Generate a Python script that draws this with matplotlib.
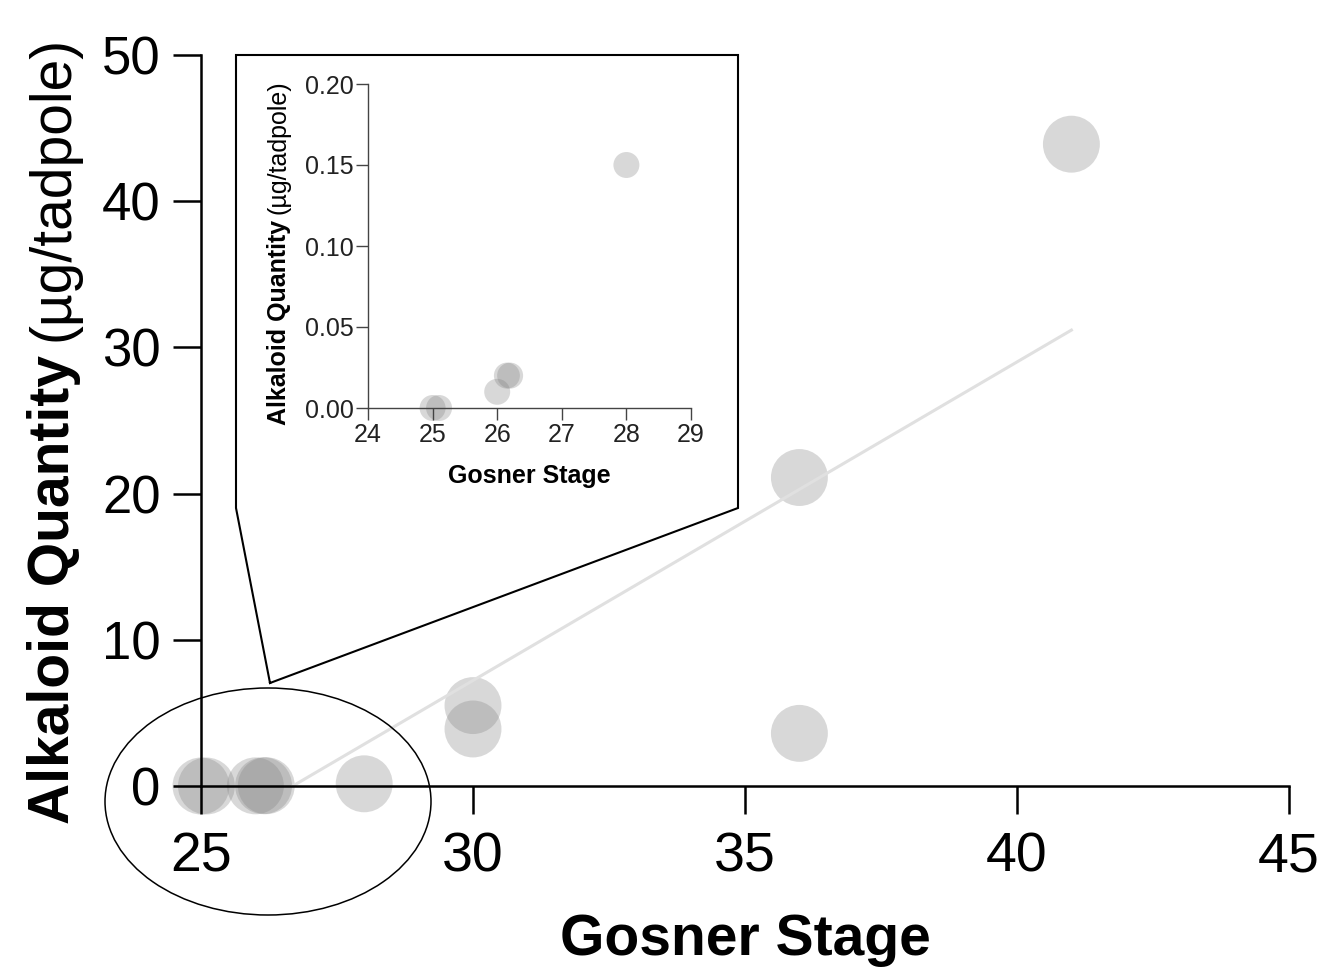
import matplotlib
matplotlib.use("Agg")
import matplotlib.pyplot as plt
from matplotlib.patches import Ellipse
import numpy as np

plt.rcParams["font.family"] = ["Liberation Sans", "DejaVu Sans"]

# data
stage = np.array([25.0, 25.1, 26.0, 26.15, 26.2, 28.0, 30.0, 30.0, 36.0, 36.0, 41.0])
alkaloid = np.array([0.0, 0.0, 0.01, 0.02, 0.02, 0.15, 5.5, 3.9, 3.6, 21.1, 43.9])

main_xticks = [25, 30, 35, 40, 45]
main_yticks = [0, 10, 20, 30, 40, 50]
inset_xticks = [24, 25, 26, 27, 28, 29]
inset_yticks = [0.00, 0.05, 0.10, 0.15, 0.20]

W, H = 1322, 971
fig = plt.figure(figsize=(W / 100, H / 100), dpi=100)

# ---- main axes
ax = fig.add_axes([201 / W, 185 / H, 1088 / W, 731 / H])
ax.scatter(stage, alkaloid, s=1680, color="#808080", alpha=0.3,
           edgecolors="none", clip_on=False, zorder=1)

slope, icpt = np.polyfit(stage, alkaloid, 1)
x0 = -icpt / slope
xl = np.array([x0, stage.max()])
ax.plot(xl, slope * xl + icpt, color="#e0e0e0", lw=2.2, zorder=2)

ax.set_xlim(25, 45)
ax.set_ylim(0, 50)
ax.set_xticks(main_xticks)
ax.set_yticks(main_yticks)
for s in ["top", "right"]:
    ax.spines[s].set_visible(False)
for s in ["left", "bottom"]:
    ax.spines[s].set_linewidth(1.8)
ax.tick_params(direction="out", length=20, width=1.8)
ax.tick_params(axis="x", labelsize=40, pad=13)
ax.tick_params(axis="y", labelsize=38, pad=9)

fig.text(745 / W, (H - 955) / H, "Gosner Stage", ha="center", va="baseline",
         fontsize=41, fontweight="bold")


def two_part_ylabel(x, y, size):
    t1 = fig.text(x, y, "Alkaloid Quantity", rotation=90, rotation_mode="anchor",
                  ha="left", va="baseline", fontsize=size, fontweight="bold")
    r = fig.canvas.get_renderer()
    bb = t1.get_window_extent(r)
    fig.text(x, bb.y1 / H + size * 0.25 / 72 * 100 / H, "(\u00b5g/tadpole)", rotation=90,
             rotation_mode="anchor", ha="left", va="baseline", fontsize=size)


two_part_ylabel(69 / W, (H - 824) / H, 41)

# ---- inset axes
axi = fig.add_axes([368 / W, (H - 408) / H, 323 / W, 324 / H])
axi.set_facecolor("none")
sel = stage <= 29
axi.scatter(stage[sel], alkaloid[sel], s=350, color="#808080", alpha=0.3,
            edgecolors="none", clip_on=False)
axi.set_xlim(24, 29)
axi.set_ylim(0, 0.20)
axi.set_xticks(inset_xticks)
axi.set_yticks(inset_yticks)
axi.set_yticklabels([f"{v:.2f}" for v in inset_yticks])
for s in ["top", "right"]:
    axi.spines[s].set_visible(False)
for s in ["left", "bottom"]:
    axi.spines[s].set_linewidth(1.0)
    axi.spines[s].set_color("#444444")
axi.tick_params(direction="out", length=8.5, width=1.0, color="#444444",
                labelsize=18, pad=2, labelcolor="#222222")
fig.text(529 / W, (H - 483) / H, "Gosner Stage", ha="center", va="baseline",
         fontsize=18, fontweight="bold")
two_part_ylabel(286 / W, (H - 425) / H, 18)

# ---- callout frame and ellipse (pixel overlay)
ov = fig.add_axes([0, 0, 1, 1], zorder=5)
ov.set_xlim(0, W)
ov.set_ylim(H, 0)
ov.axis("off")
ov.set_facecolor("none")
fx = [270, 236, 236, 738, 738, 270]
fy = [683, 508, 55, 55, 508, 683]
ov.plot(fx, fy, color="black", lw=1.5, solid_joinstyle="miter")
ov.add_patch(Ellipse((268, 801.5), 326, 227, fill=False, ec="black", lw=1.1))

fig.savefig("out.png", dpi=100)
